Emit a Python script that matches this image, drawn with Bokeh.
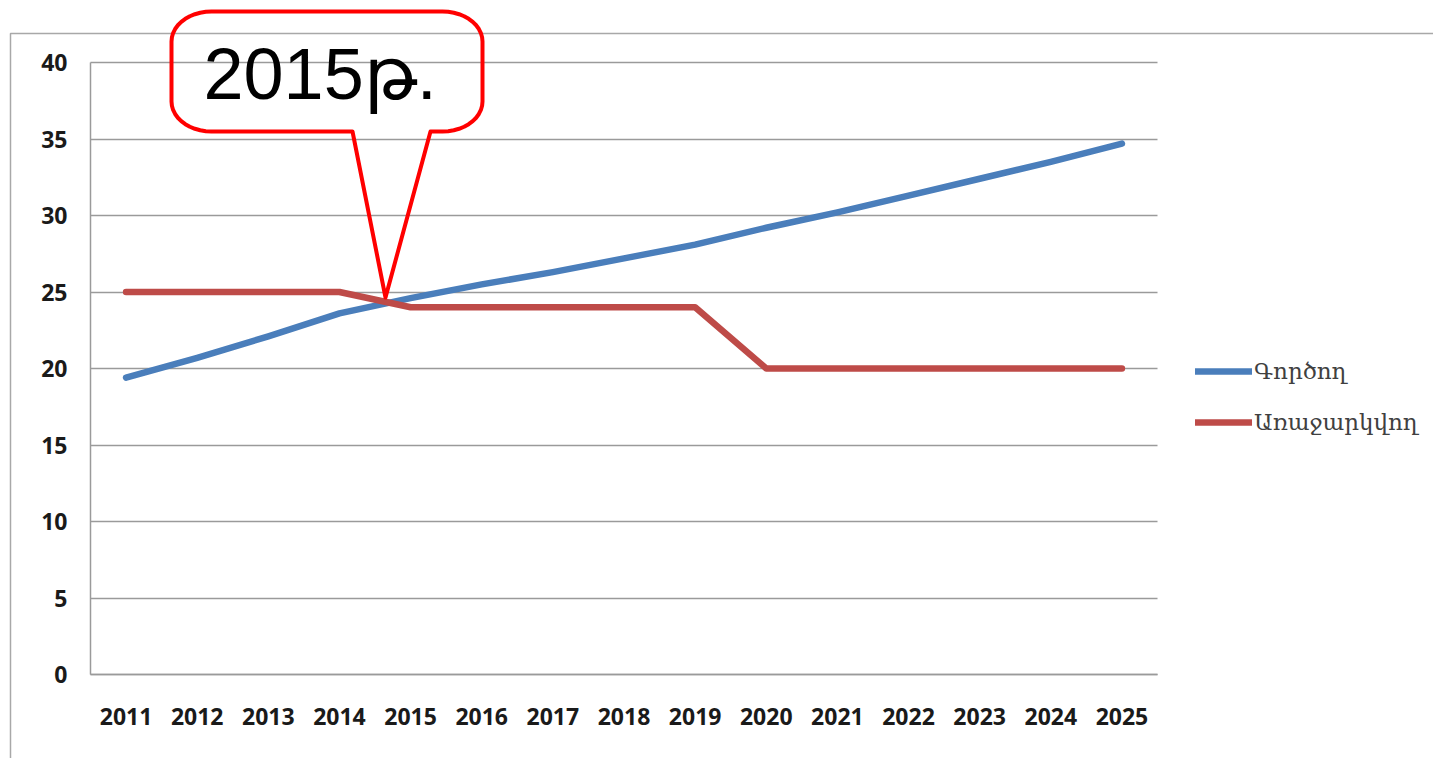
import numpy as np
from bokeh.plotting import figure
from bokeh.models import (Range1d, FixedTicker, Legend, LegendItem,
                          PolyAnnotation, Label, Grid)
from bokeh.embed import file_html
from bokeh.resources import INLINE

# ---------------- data ----------------
years = [2011, 2012, 2013, 2014, 2015, 2016, 2017, 2018,
         2019, 2020, 2021, 2022, 2023, 2024, 2025]
current = [19.4, 20.7, 22.1, 23.6, 24.6, 25.5, 26.3, 27.2,
           28.1, 29.2, 30.2, 31.3, 32.4, 33.5, 34.7]
proposed = [25, 25, 25, 25, 24, 24, 24, 24,
            24, 20, 20, 20, 20, 20, 20]
y_ticks = [0, 5, 10, 15, 20, 25, 30, 35, 40]
series_names = ["Գործող", "Առաջարկվող"]
callout_text = "2015թ."

BLUE = "#4a7ebb"
RED = "#be4b48"
GRID = "#9a9a9a"

# ---------------- geometry (page px) ----------------
W, H = 1433, 758
PLOT_L, PLOT_R = 90, 1157      # px of the data area
PLOT_T, PLOT_B = 62, 674
x_lo, x_hi = years[0] - 0.5, years[-1] + 0.5
y_lo, y_hi = y_ticks[0], y_ticks[-1]
kx = (PLOT_R - PLOT_L) / (x_hi - x_lo)
ky = (PLOT_B - PLOT_T) / (y_hi - y_lo)


def sx(px):
    return px


def sy(py):
    return H - py


p = figure(width=W, height=H,
           x_range=Range1d(x_lo - PLOT_L / kx, x_hi + (W - PLOT_R) / kx),
           y_range=Range1d(y_lo - (H - PLOT_B) / ky, y_hi + PLOT_T / ky),
           min_border=0, output_backend="svg", toolbar_location=None,
           background_fill_color="white", border_fill_color="white")
p.outline_line_color = None
p.xgrid.grid_line_color = None

p.xaxis.ticker = FixedTicker(ticks=years)
p.xaxis.major_label_overrides = {y: str(y) for y in years}
p.yaxis.ticker = FixedTicker(ticks=y_ticks)
p.xaxis.bounds = (x_lo, x_hi)
p.yaxis.bounds = (y_lo, y_hi)
p.xaxis.fixed_location = y_lo
p.yaxis.fixed_location = x_lo

for ax in (p.xaxis[0], p.yaxis[0]):
    ax.axis_line_color = GRID
    ax.axis_line_width = 1.5
    ax.major_tick_line_color = None
    ax.minor_tick_line_color = None
    ax.major_tick_out = 0
    ax.major_tick_in = 0
    ax.major_label_text_font = "Open Sans"
    ax.major_label_text_font_style = "bold"
    ax.major_label_text_font_size = "23px"
    ax.major_label_text_color = "#1a1a1a"
p.xaxis.major_label_standoff = 33
p.yaxis.major_label_standoff = 23

yg = p.ygrid[0]
yg.grid_line_color = GRID
yg.grid_line_width = 1.5
if "cross_bounds" in Grid.properties():
    yg.cross_bounds = (x_lo, x_hi)
else:
    yg.grid_line_color = None
    p.segment(x0=[x_lo] * len(y_ticks), x1=[x_hi] * len(y_ticks),
              y0=y_ticks, y1=y_ticks, line_color=GRID, line_width=1.5)

r1 = p.line(x=years, y=current, line_color=BLUE, line_width=6.5,
            line_cap="round", line_join="round")
r2 = p.line(x=years, y=proposed, line_color=RED, line_width=6.5,
            line_cap="round", line_join="round")

legend = Legend(items=[LegendItem(label=series_names[0], renderers=[r1]),
                       LegendItem(label=series_names[1], renderers=[r2])],
                location=(sx(1195), sy(435)),
                glyph_width=57, glyph_height=22, label_height=22,
                label_standoff=2, spacing=25, padding=0, margin=0,
                border_line_alpha=0, background_fill_alpha=0,
                label_text_font="DejaVu Serif", label_text_font_size="23px",
                label_text_color="#404040")
p.add_layout(legend, "center")

# outer chart-area frame (left + top edges)
outer = PolyAnnotation(xs=[sx(10), sx(3000), sx(3000), sx(10)],
                       ys=[sy(33), sy(33), sy(3000), sy(3000)],
                       xs_units="screen", ys_units="screen",
                       fill_alpha=0, line_color="#a8a8a8", line_alpha=1,
                       line_width=1.5)
p.add_layout(outer)

# callout shape
L, R, T, B, rx, ry = 171, 482, 11, 131, 40, 30
legL, legR, tip = 352, 430, (385, 297)


def arc(cx, cy, a0, a1, n=12):
    t = np.radians(np.linspace(a0, a1, n))
    return list(cx + rx * np.cos(t)), list(cy + ry * np.sin(t))


px_, py_ = [], []
for seg in (arc(R - rx, T + ry, -90, 0), arc(R - rx, B - ry, 0, 90)):
    px_ += seg[0]
    py_ += seg[1]
px_ += [legR, tip[0], legL]
py_ += [B, tip[1], B]
for seg in (arc(L + rx, B - ry, 90, 180), arc(L + rx, T + ry, 180, 270)):
    px_ += seg[0]
    py_ += seg[1]

callout = PolyAnnotation(xs=[sx(v) for v in px_], ys=[sy(v) for v in py_],
                         xs_units="screen", ys_units="screen",
                         fill_alpha=0, line_color="#ff0000", line_alpha=1,
                         line_width=4, line_join="round")
p.add_layout(callout)

lbl = Label(x=sx(203), y=sy(73), x_units="screen", y_units="screen",
            text=callout_text, text_font="Liberation Sans",
            text_font_size="72px", text_color="black",
            text_baseline="alphabetic", text_align="left")
p.add_layout(lbl)

open("out.html", "w").write(file_html(p, INLINE))
